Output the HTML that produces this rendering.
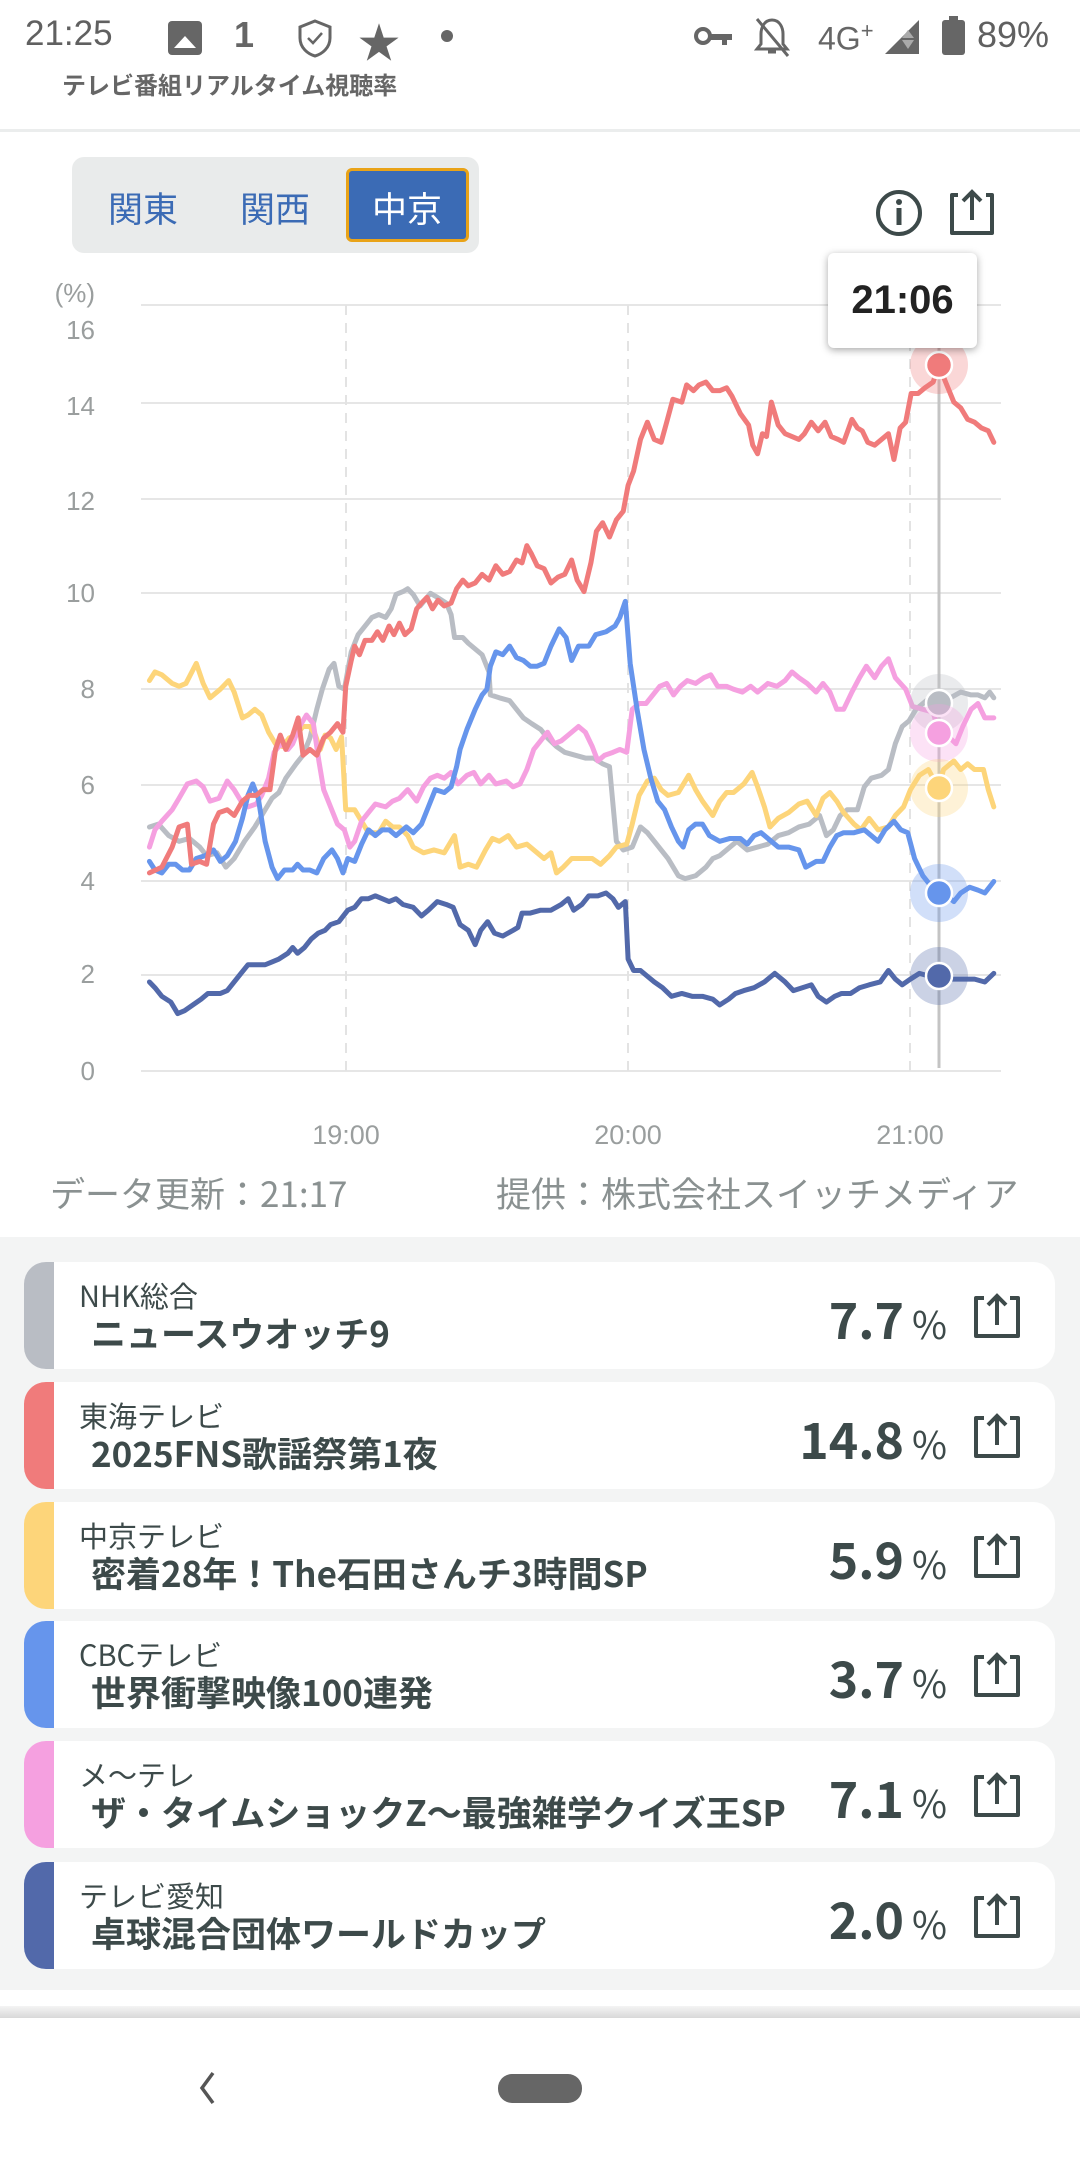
<!DOCTYPE html>
<html><head><meta charset="utf-8">
<style>
*{margin:0;padding:0;box-sizing:border-box}
body{width:1080px;height:2160px;background:#fff;position:relative;overflow:hidden;font-family:"Liberation Sans","Noto Sans CJK JP",sans-serif;color:#3d4a4a}
.a{position:absolute;white-space:nowrap}
.card{position:absolute;left:24px;width:1031px;height:107px;background:#fff;border-radius:22px;overflow:hidden}
.bar{position:absolute;left:0;top:0;bottom:0;width:30px}
.ch{position:absolute;left:55px;top:12px;font-size:29px;color:#3d4a4a;font-family:"Noto Sans CJK JP",sans-serif}
.ti{position:absolute;left:67px;top:45px;font-size:35px;font-weight:bold;color:#3d4a4a;font-family:"Noto Sans CJK JP",sans-serif;max-width:760px;overflow:hidden;text-overflow:ellipsis;white-space:nowrap}
.pv{position:absolute;right:108px;top:20px;font-size:50px;font-weight:bold;font-family:"Noto Sans CJK JP",sans-serif;color:#3d4a4a}
.pv span{font-size:38px;font-weight:normal;margin-left:8px}
.sh{position:absolute;left:948px;top:30px}
</style></head><body>
<!-- status bar -->
<div class="a" style="left:25px;top:14px;font-size:35px;color:#606060">21:25</div>
<div class="a" style="left:168px;top:21px;width:34px;height:34px;background:#666;border-radius:4px"></div>
<div class="a" style="left:174px;top:36px;width:0;height:0;border-left:11px solid transparent;border-right:11px solid transparent;border-bottom:12px solid #fff"></div>
<div class="a" style="left:234px;top:14px;font-size:36px;font-weight:bold;color:#666">1</div>
<svg class="a" style="left:296px;top:18px" width="38" height="40"><path d="M19 3 L34 9 V20 C34 30 26 36 19 38 C12 36 4 30 4 20 V9 Z" fill="none" stroke="#666" stroke-width="3"/><path d="M12 20 L17 25 L26 15" fill="none" stroke="#666" stroke-width="2.5"/></svg>
<div class="a" style="left:358px;top:10px;font-size:42px;color:#666">★</div>
<div class="a" style="left:441px;top:30px;width:12px;height:12px;border-radius:6px;background:#666"></div>
<svg class="a" style="left:694px;top:24px" width="40" height="24"><circle cx="9" cy="12" r="7" fill="none" stroke="#666" stroke-width="4"/><path d="M16 10 H38 V16 H33 V21 H28 V16 H16Z" fill="#666"/></svg>
<svg class="a" style="left:752px;top:16px" width="40" height="42"><path d="M20 4 C28 4 31 12 31 18 V28 L35 33 H5 L9 28 V18 C9 12 12 4 20 4Z M16 36 H24" fill="none" stroke="#666" stroke-width="3"/><path d="M5 3 L36 40" stroke="#666" stroke-width="3"/></svg>
<div class="a" style="left:818px;top:18px;font-size:32px;color:#666">4G<sup style="font-size:22px">+</sup></div>
<svg class="a" style="left:883px;top:18px" width="38" height="38"><path d="M2 36 L36 2 V36Z" fill="#666"/><path d="M25 12 L31 20 H19Z M19 22 H31 L25 31Z" fill="#aaa"/></svg>
<div class="a" style="left:942px;top:20px;width:23px;height:35px;background:#666;border-radius:3px"></div>
<div class="a" style="left:949px;top:16px;width:9px;height:5px;background:#666"></div>
<div class="a" style="left:977px;top:14px;font-size:36px;color:#606060">89%</div>
<div class="a" style="left:62px;top:66px;font-size:24px;color:#666;font-weight:bold;font-family:'Noto Sans CJK JP',sans-serif">テレビ番組リアルタイム視聴率</div>
<div class="a" style="left:0;top:129px;width:1080px;height:3px;background:#ebeded"></div>
<!-- segmented -->
<div class="a" style="left:72px;top:157px;width:407px;height:96px;background:#e9ebeb;border-radius:12px"></div>
<div class="a" style="left:346px;top:168px;width:123px;height:74px;background:#3b6bb5;border:3px solid #e9a318;border-radius:6px"></div>
<div class="a" style="left:108px;top:182px;font-size:35px;color:#3b6bb5;font-family:'Noto Sans CJK JP',sans-serif">関東</div>
<div class="a" style="left:240px;top:182px;font-size:35px;color:#3b6bb5;font-family:'Noto Sans CJK JP',sans-serif">関西</div>
<div class="a" style="left:372px;top:182px;font-size:35px;color:#fff;font-family:'Noto Sans CJK JP',sans-serif">中京</div>
<svg class="a" style="left:872px;top:186px" width="56" height="56"><circle cx="27" cy="27" r="21" fill="none" stroke="#3d4a4a" stroke-width="4"/><circle cx="27" cy="16" r="3" fill="#3d4a4a"/><rect x="24.5" y="22" width="5" height="17" fill="#3d4a4a"/></svg>
<svg class="a" style="left:946px;top:187px" width="52" height="52"><path d="M12 8 H6 V46 H46 V8 H40" fill="none" stroke="#3d4a4a" stroke-width="4" stroke-linejoin="round"/><path d="M26 33 V5 M17 14 L26 5 L35 14" fill="none" stroke="#3d4a4a" stroke-width="4"/></svg>
<!-- chart -->
<svg class="a" style="left:0;top:0" width="1080" height="1160">
<g font-size="26" fill="#9a9e9e" text-anchor="end" font-family="Liberation Sans,sans-serif">
<text x="95" y="302">(%)</text>
<text x="95" y="339">16</text><text x="95" y="415">14</text><text x="95" y="510">12</text><text x="95" y="602">10</text><text x="95" y="698">8</text><text x="95" y="794">6</text><text x="95" y="890">4</text><text x="95" y="983">2</text><text x="95" y="1080">0</text>
</g>
<g stroke="#e6e6e6" stroke-width="2">
<line x1="141" x2="1001" y1="305" y2="305"/><line x1="141" x2="1001" y1="403" y2="403"/><line x1="141" x2="1001" y1="499" y2="499"/><line x1="141" x2="1001" y1="593" y2="593"/><line x1="141" x2="1001" y1="689" y2="689"/><line x1="141" x2="1001" y1="785" y2="785"/><line x1="141" x2="1001" y1="881" y2="881"/><line x1="141" x2="1001" y1="975" y2="975"/><line x1="141" x2="1001" y1="1071" y2="1071"/>
</g>
<g stroke="#e3e3e3" stroke-width="2" stroke-dasharray="10,8">
<line x1="346" x2="346" y1="305" y2="1071"/><line x1="628" x2="628" y1="305" y2="1071"/><line x1="910" x2="910" y1="305" y2="1071"/>
</g>
<g font-size="27" fill="#9a9e9e" text-anchor="middle"><text x="346" y="1144">19:00</text><text x="628" y="1144">20:00</text><text x="910" y="1144">21:00</text></g>
<line x1="939" x2="939" y1="340" y2="1068" stroke="#c4c4c4" stroke-width="3"/>
<g transform="translate(0,250) scale(0.6887,0.5741)" fill="none" stroke-width="5" stroke-linejoin="round" stroke-linecap="round">
<polyline vector-effect="non-scaling-stroke" stroke="#b9bdc4" points="217,1005 230,1000 245,1020 260,1030 275,1025 290,1040 300,1055 315,1050 328,1075 340,1060 355,1030 370,1005 385,975 395,955 405,945 415,920 430,895 440,880 450,850 460,800 468,765 478,730 485,720 492,760 500,765 510,700 520,670 530,655 540,640 550,635 560,640 568,625 575,600 585,595 592,590 600,600 610,620 625,598 635,605 648,615 655,635 660,675 672,675 680,685 690,695 700,705 710,735 712,775 725,780 740,785 750,800 760,815 772,825 785,835 795,850 808,865 820,875 835,880 850,885 862,885 875,895 885,900 895,1030 905,1045 918,1040 930,1005 940,1015 950,1030 960,1045 970,1060 985,1090 995,1095 1010,1090 1025,1075 1035,1060 1045,1055 1060,1040 1070,1030 1085,1045 1100,1040 1115,1035 1130,1020 1145,1015 1160,1005 1175,1000 1190,985 1200,1020 1210,1010 1220,985 1230,975 1245,975 1255,935 1265,920 1280,915 1290,905 1300,860 1310,830 1320,820 1330,800 1345,785 1363,790 1380,780 1395,770 1410,775 1420,775 1430,780 1437,770 1443,780"/>
<polyline vector-effect="non-scaling-stroke" stroke="#fdd57a" points="217,750 225,735 235,740 250,755 260,760 270,755 285,720 295,755 305,780 320,765 332,750 340,770 352,815 360,810 370,800 380,810 390,840 400,860 410,865 420,850 430,845 440,830 450,830 458,845 465,870 472,845 480,850 488,870 496,848 502,975 515,975 525,995 535,1015 550,1015 560,995 570,1005 580,1005 592,1020 600,1040 615,1050 630,1045 645,1050 660,1020 668,1075 680,1070 692,1075 705,1045 715,1025 725,1030 738,1020 750,1040 765,1035 780,1050 790,1060 800,1050 808,1085 818,1075 830,1060 845,1060 860,1060 872,1070 885,1055 895,1040 910,1035 918,1000 928,950 940,925 950,920 960,940 970,950 985,945 1000,915 1010,940 1020,960 1035,985 1045,960 1055,945 1065,945 1080,930 1092,910 1100,935 1110,970 1118,1005 1130,990 1145,980 1160,965 1172,960 1185,985 1195,955 1205,945 1215,960 1225,980 1240,1000 1250,1010 1262,990 1275,1010 1290,1005 1300,985 1312,970 1322,940 1335,915 1348,905 1363,938 1370,905 1385,890 1395,905 1405,895 1415,905 1428,905 1435,940 1443,970"/>
<polyline vector-effect="non-scaling-stroke" stroke="#f5a0e0" points="217,1040 225,1010 235,995 250,975 260,955 272,930 285,925 295,935 305,960 318,955 330,925 340,940 350,960 360,970 372,965 380,950 390,920 398,875 408,860 418,870 425,860 435,830 445,810 455,825 463,890 470,940 480,970 490,1000 500,1010 508,1040 515,1030 525,995 535,980 545,965 560,970 570,960 580,955 592,940 605,960 615,935 625,920 635,915 645,920 655,910 665,930 678,915 688,910 698,930 710,915 720,930 735,925 745,935 755,930 765,905 775,870 785,855 795,840 805,860 815,855 825,845 840,830 850,840 860,865 868,890 878,880 890,875 900,870 910,875 918,800 928,790 938,790 948,775 958,760 968,755 978,775 988,760 998,750 1010,755 1022,745 1032,740 1042,760 1055,760 1065,765 1078,770 1090,760 1100,770 1115,755 1128,760 1140,750 1150,735 1160,745 1172,755 1185,770 1195,755 1205,770 1215,800 1225,800 1237,770 1248,745 1258,725 1270,745 1280,725 1290,712 1300,745 1315,765 1325,795 1340,800 1355,805 1363,841 1375,845 1388,860 1398,830 1410,800 1420,790 1430,815 1443,815"/>
<polyline vector-effect="non-scaling-stroke" stroke="#6695ec" points="217,1065 225,1080 235,1085 245,1070 255,1070 265,1080 275,1080 285,1060 298,1055 310,1045 320,1065 330,1055 342,1030 352,990 360,950 367,930 375,955 385,1030 395,1075 403,1095 413,1080 425,1080 432,1070 440,1080 450,1080 460,1085 470,1060 482,1045 490,1060 498,1085 505,1060 515,1065 525,1035 535,1010 545,1020 555,1010 565,1010 575,1020 590,1005 600,1015 612,1000 622,970 632,940 645,945 655,935 663,900 668,870 678,835 690,800 700,775 707,765 712,725 720,700 730,705 740,690 750,710 760,715 770,725 780,725 790,720 800,690 812,660 822,675 830,715 840,690 855,690 865,670 880,665 893,655 900,640 908,612 915,720 925,800 935,870 945,920 955,960 965,975 975,1005 985,1030 992,1040 1000,1010 1010,1000 1020,1000 1030,1020 1045,1030 1060,1025 1075,1025 1085,1035 1095,1020 1105,1015 1115,1025 1130,1040 1145,1040 1160,1045 1170,1075 1185,1065 1195,1065 1205,1040 1215,1020 1225,1015 1240,1015 1255,1010 1265,1020 1275,1030 1285,1010 1298,995 1308,1010 1318,1015 1328,1060 1340,1090 1350,1105 1363,1120 1375,1125 1385,1135 1395,1120 1408,1110 1420,1115 1430,1120 1443,1100"/>
<polyline vector-effect="non-scaling-stroke" stroke="#5269aa" points="217,1275 225,1285 235,1300 248,1310 258,1330 268,1325 280,1315 292,1305 302,1295 320,1295 330,1290 340,1275 350,1260 360,1245 372,1245 385,1245 395,1240 405,1235 418,1225 425,1215 432,1225 442,1215 452,1200 462,1190 472,1185 480,1175 492,1170 505,1150 515,1145 525,1130 535,1130 545,1125 555,1130 565,1135 575,1130 585,1140 600,1145 612,1160 622,1150 635,1135 648,1140 658,1145 668,1175 680,1185 690,1210 698,1185 708,1170 718,1190 730,1195 745,1185 752,1180 758,1155 770,1155 785,1150 800,1150 815,1140 825,1130 833,1150 845,1140 855,1125 868,1125 880,1120 890,1130 898,1145 908,1135 912,1235 920,1255 930,1255 940,1265 950,1275 962,1285 975,1300 990,1295 1005,1300 1020,1300 1035,1305 1045,1315 1058,1305 1068,1295 1080,1290 1095,1285 1110,1275 1125,1260 1140,1275 1152,1290 1165,1285 1178,1280 1188,1300 1200,1310 1212,1300 1222,1295 1235,1295 1248,1285 1262,1280 1278,1275 1290,1255 1300,1270 1310,1280 1322,1270 1335,1260 1350,1265 1363,1265 1380,1270 1400,1270 1415,1270 1430,1275 1443,1260"/>
<polyline vector-effect="non-scaling-stroke" stroke="#f07b7b" points="217,1085 235,1075 250,1040 260,1005 272,1000 278,1070 290,1065 300,1070 310,1000 318,980 330,975 340,985 352,960 362,950 372,950 382,940 392,940 400,870 407,845 415,870 425,845 433,815 440,880 450,870 460,880 470,850 480,840 490,825 498,840 502,760 510,715 515,690 522,705 530,680 540,680 548,665 556,680 565,655 572,670 580,650 588,670 597,660 605,625 612,615 620,605 628,625 636,610 645,620 655,615 663,590 672,575 680,585 690,580 700,565 710,575 720,550 730,565 740,560 750,540 758,545 765,515 772,530 780,550 790,555 800,580 810,570 820,565 830,540 838,575 848,595 858,545 866,490 875,475 885,500 895,470 905,455 912,410 920,385 930,330 940,300 950,330 960,335 968,300 977,260 990,265 997,235 1007,245 1015,235 1025,230 1035,245 1045,245 1055,240 1063,255 1075,285 1087,305 1093,340 1100,355 1107,320 1113,325 1120,265 1130,305 1140,320 1150,325 1160,330 1168,320 1178,300 1188,315 1198,300 1207,325 1217,330 1225,335 1237,295 1245,310 1252,315 1260,335 1270,340 1280,330 1290,320 1298,365 1307,310 1315,300 1323,250 1333,250 1343,240 1355,230 1363,200 1373,230 1385,265 1395,275 1405,295 1415,300 1425,310 1435,315 1443,335"/>
</g>
<g stroke="#fff" stroke-width="2.5">
<circle cx="939" cy="703" r="29" fill="#b9bdc4" fill-opacity="0.3" stroke="none"/><circle cx="939" cy="703" r="13" fill="#b9bdc4"/>
<circle cx="939" cy="733" r="29" fill="#f5a0e0" fill-opacity="0.3" stroke="none"/><circle cx="939" cy="733" r="13" fill="#f5a0e0"/>
<circle cx="939" cy="788" r="29" fill="#fdd57a" fill-opacity="0.3" stroke="none"/><circle cx="939" cy="788" r="13" fill="#fdd57a"/>
<circle cx="939" cy="893" r="29" fill="#6695ec" fill-opacity="0.3" stroke="none"/><circle cx="939" cy="893" r="13" fill="#6695ec"/>
<circle cx="939" cy="976" r="29" fill="#5269aa" fill-opacity="0.3" stroke="none"/><circle cx="939" cy="976" r="13" fill="#5269aa"/>
<circle cx="939" cy="365" r="29" fill="#f07b7b" fill-opacity="0.3" stroke="none"/><circle cx="939" cy="365" r="13" fill="#f07b7b"/>
</g>
</svg>
<div class="a" style="left:828px;top:253px;width:149px;height:95px;background:#fff;border-radius:6px;box-shadow:0 2px 8px rgba(0,0,0,0.35);text-align:center;line-height:95px;font-size:40px;font-weight:bold;color:#222">21:06</div>
<div class="a" style="left:50px;top:1167px;font-size:35px;color:#8a9191;font-family:'Noto Sans CJK JP',sans-serif">データ更新：21:17</div>
<div class="a" style="left:496px;top:1167px;font-size:35px;color:#8a9191;font-family:'Noto Sans CJK JP',sans-serif">提供：株式会社スイッチメディア</div>
<!-- list -->
<div class="a" style="left:0;top:1237px;width:1080px;height:753px;background:#f3f4f4"></div>
<div class="card" style="top:1262px"><div class="bar" style="background:#b9bdc4"></div><div class="ch">NHK総合</div><div class="ti">ニュースウオッチ9</div><div class="pv">7.7<span>%</span></div><svg class="sh" width="50" height="50"><path d="M12 6 H4 V44 H46 V6 H38" fill="none" stroke="#3d4a4a" stroke-width="4" stroke-linejoin="round"/><path d="M25 33 V4 M16 13 L25 4 L34 13" fill="none" stroke="#3d4a4a" stroke-width="4"/></svg></div>
<div class="card" style="top:1382px"><div class="bar" style="background:#f07b7b"></div><div class="ch">東海テレビ</div><div class="ti">2025FNS歌謡祭第1夜</div><div class="pv">14.8<span>%</span></div><svg class="sh" width="50" height="50"><path d="M12 6 H4 V44 H46 V6 H38" fill="none" stroke="#3d4a4a" stroke-width="4" stroke-linejoin="round"/><path d="M25 33 V4 M16 13 L25 4 L34 13" fill="none" stroke="#3d4a4a" stroke-width="4"/></svg></div>
<div class="card" style="top:1502px"><div class="bar" style="background:#fdd57a"></div><div class="ch">中京テレビ</div><div class="ti">密着28年！The石田さんチ3時間SP</div><div class="pv">5.9<span>%</span></div><svg class="sh" width="50" height="50"><path d="M12 6 H4 V44 H46 V6 H38" fill="none" stroke="#3d4a4a" stroke-width="4" stroke-linejoin="round"/><path d="M25 33 V4 M16 13 L25 4 L34 13" fill="none" stroke="#3d4a4a" stroke-width="4"/></svg></div>
<div class="card" style="top:1621px"><div class="bar" style="background:#6695ec"></div><div class="ch">CBCテレビ</div><div class="ti">世界衝撃映像100連発</div><div class="pv">3.7<span>%</span></div><svg class="sh" width="50" height="50"><path d="M12 6 H4 V44 H46 V6 H38" fill="none" stroke="#3d4a4a" stroke-width="4" stroke-linejoin="round"/><path d="M25 33 V4 M16 13 L25 4 L34 13" fill="none" stroke="#3d4a4a" stroke-width="4"/></svg></div>
<div class="card" style="top:1741px"><div class="bar" style="background:#f5a0e0"></div><div class="ch">メ〜テレ</div><div class="ti" style="max-width:728px">ザ・タイムショックZ〜最強雑学クイズ王SP</div><div class="pv">7.1<span>%</span></div><svg class="sh" width="50" height="50"><path d="M12 6 H4 V44 H46 V6 H38" fill="none" stroke="#3d4a4a" stroke-width="4" stroke-linejoin="round"/><path d="M25 33 V4 M16 13 L25 4 L34 13" fill="none" stroke="#3d4a4a" stroke-width="4"/></svg></div>
<div class="card" style="top:1862px"><div class="bar" style="background:#5269aa"></div><div class="ch">テレビ愛知</div><div class="ti">卓球混合団体ワールドカップ</div><div class="pv">2.0<span>%</span></div><svg class="sh" width="50" height="50"><path d="M12 6 H4 V44 H46 V6 H38" fill="none" stroke="#3d4a4a" stroke-width="4" stroke-linejoin="round"/><path d="M25 33 V4 M16 13 L25 4 L34 13" fill="none" stroke="#3d4a4a" stroke-width="4"/></svg></div>
<!-- bottom -->
<div class="a" style="left:0;top:2006px;width:1080px;height:12px;background:linear-gradient(#f4f4f4,#d8d8d8)"></div>
<svg class="a" style="left:195px;top:2070px" width="24" height="36"><path d="M18 3 L7 18 L18 33" fill="none" stroke="#555" stroke-width="3.5"/></svg>
<div class="a" style="left:498px;top:2074px;width:84px;height:29px;background:#666;border-radius:14px"></div>
</body></html>
